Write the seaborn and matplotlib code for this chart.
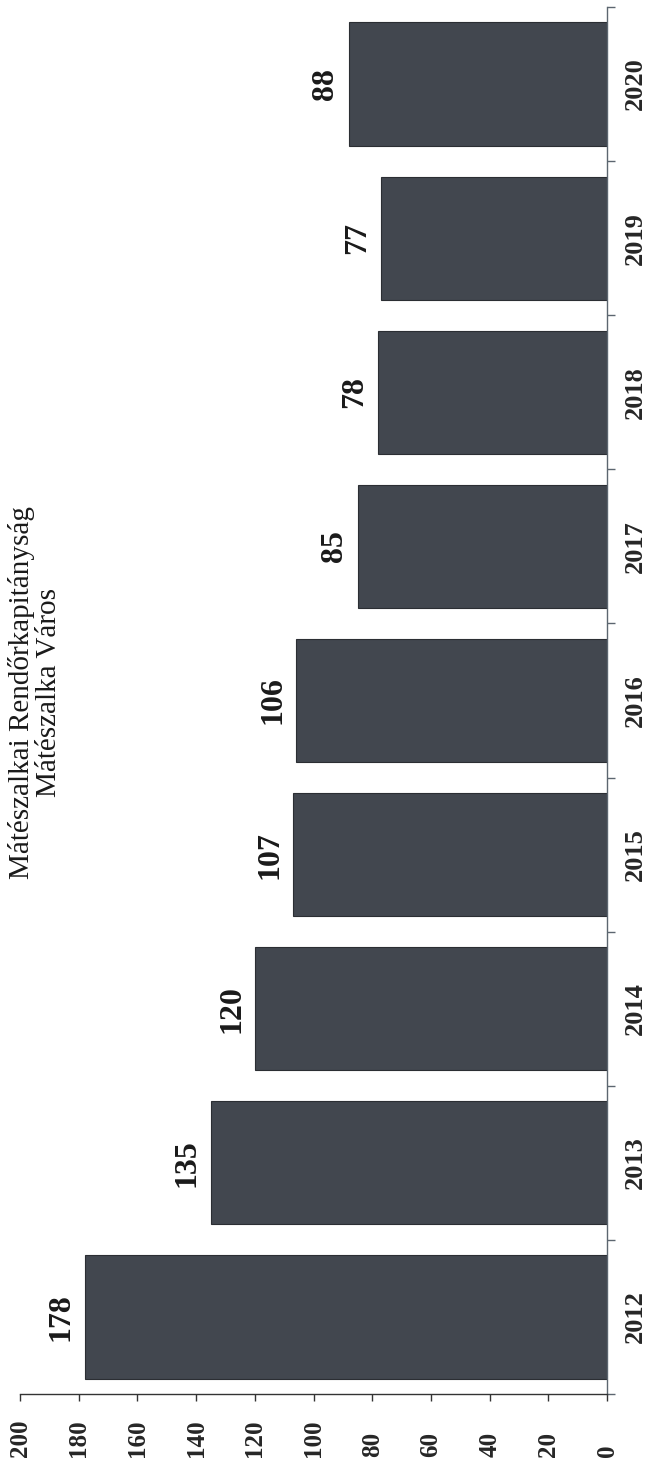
#!/usr/bin/env python
# -*- coding: utf-8 -*-

"""
Rotated bar chart: yearly counts, Mátészalka Város
"""

import matplotlib
matplotlib.use('Agg')
import matplotlib.pyplot as plt
import numpy as np
import pandas as pd
import seaborn as sns

years = ['2012', '2013', '2014', '2015', '2016', '2017', '2018', '2019', '2020']
counts = [178, 135, 120, 107, 106, 85, 78, 77, 88]
value_ticks = [0, 20, 40, 60, 80, 100, 120, 140, 160, 180, 200]
title_lines = ['Mátészalkai Rendőrkapitányság', 'Mátészalka Város']

bar_color = '#42474f'


def main():
  sns.set_theme(style='white')
  plt.rcParams['font.family'] = ['Liberation Serif', 'DejaVu Serif']

  df = pd.DataFrame({'year': years, 'count': counts})

  fig = plt.figure(figsize=(6.54, 14.68), dpi=100)
  ax = fig.add_axes([0.0306, 0.0504, 0.8976, 0.9448])

  # bars drawn horizontally, whole page is turned by 90 degrees
  sns.barplot(data=df, x='count', y='year', order=years[::-1], orient='h',
              color=bar_color, saturation=1, width=0.8,
              edgecolor='#2b2e33', linewidth=0.8, ax=ax)
  ax.set_xlim(200, 0)
  ax.set_xlabel('')
  ax.set_ylabel('')

  for sp in ['left', 'top']:
    ax.spines[sp].set_visible(False)
  ax.spines['bottom'].set_color('#333333')
  ax.spines['bottom'].set_linewidth(1.0)
  ax.spines['right'].set_color('#5c6670')
  ax.spines['right'].set_linewidth(1.0)

  # value axis
  ax.set_xticks(value_ticks)
  ax.set_xticklabels([str(v) for v in value_ticks])
  ax.tick_params(axis='x', bottom=True, direction='out', length=5, width=1,
                 color='#333333', labelsize=18, labelrotation=90, pad=40)
  for lbl in ax.get_xticklabels():
    lbl.set_fontweight('bold')
    lbl.set_va('bottom')

  # category axis on the right
  ax.yaxis.set_ticks_position('right')
  ax.set_yticks(np.arange(-0.5, len(years), 1), minor=True)
  ax.tick_params(axis='y', which='major', left=False, right=True, length=0,
                 labelleft=False, labelright=True, labelsize=19, pad=12)
  ax.tick_params(axis='y', which='minor', left=False, right=True,
                 direction='out', length=6, width=1, color='#5c6670')
  for lbl in ax.get_yticklabels():
    lbl.set_rotation(90)
    lbl.set_fontweight('bold')
    lbl.set_va('center')
    lbl.set_ha('left')

  # value labels at the end of every bar
  for i, (y, v) in enumerate(zip(years[::-1], counts[::-1])):
    ax.text(v + 3, i, str(v), rotation=90, ha='right', va='center',
            fontsize=23, fontweight='bold', color='#1a1a1a')

  fig.text(0.053, 0.528, '\n'.join(title_lines), rotation=90,
           ha='center', va='center', fontsize=21, color='#1a1a1a',
           linespacing=1.05)

  plotname = 'out.png'
  print(f'plotting {plotname}')
  plt.savefig(plotname, dpi=100)
  plt.close()


if __name__ == '__main__':
  main()
